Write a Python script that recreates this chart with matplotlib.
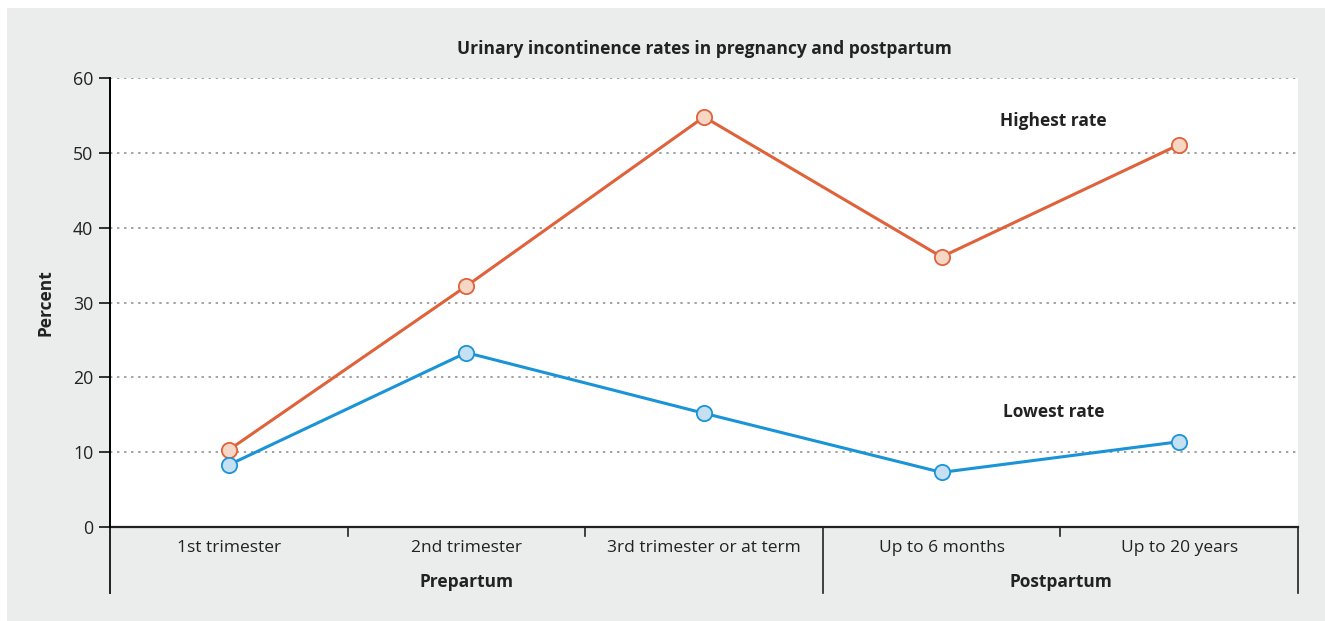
import matplotlib
matplotlib.use("Agg")
import matplotlib.pyplot as plt
from matplotlib.patches import Rectangle

plt.rcParams['font.family'] = ['Open Sans', 'DejaVu Sans']

# data
categories = ["1st trimester", "2nd trimester", "3rd trimester or at term",
              "Up to 6 months", "Up to 20 years"]
groups = ["Prepartum", "Postpartum"]
group_spans = [(0, 3), (3, 5)]   # category index range per group
highest = [10.3, 32.2, 54.8, 36.1, 51.1]
lowest = [8.3, 23.3, 15.2, 7.3, 11.4]
yticks = [0, 10, 20, 30, 40, 50, 60]

orange = "#E0623A"
orange_fill = "#F6D6C4"
blue = "#1A94D6"
blue_fill = "#C6E0F3"
bg = "#EBECEC"

fig = plt.figure(figsize=(13.25, 6.21), dpi=100)
fig.patch.set_facecolor("white")
fig.patches.append(Rectangle((7 / 1325, 0), 1 - 7 / 1325, 1 - 8 / 621,
                             transform=fig.transFigure, facecolor=bg,
                             edgecolor="none", zorder=-10))

ax = fig.add_axes([110 / 1325, 1 - 527 / 621, 1188 / 1325, 449 / 621])
ax.set_facecolor("white")

x = list(range(len(categories)))
ax.plot(x, highest, color=orange, lw=2.2, marker="o", ms=11,
        mfc=orange_fill, mec=orange, mew=1.3, zorder=3, clip_on=False)
ax.plot(x, lowest, color=blue, lw=2.2, marker="o", ms=11,
        mfc=blue_fill, mec=blue, mew=1.3, zorder=3, clip_on=False)

ax.set_xlim(-0.5, len(categories) - 0.5)
ax.set_ylim(0, 60)
ax.set_yticks(yticks)
ax.set_yticklabels([str(v) for v in yticks], fontsize=12.8, color="#222222")
ax.tick_params(axis="y", length=8, width=1.3, pad=4, color="#222222")

# dotted grid
for v in yticks[1:]:
    ax.axhline(v, color="#9a9a9a", lw=1.3, ls=(0, (1.3, 2.6)), zorder=1)

for s in ["top", "right", "bottom"]:
    ax.spines[s].set_visible(False)
ax.spines["left"].set_linewidth(1.4)
ax.spines["left"].set_bounds(0, 60)
ax.axhline(0, color="#222222", lw=1.6, zorder=2, clip_on=False)

ax.set_xticks([])

# category labels and separators below axis
for i, c in enumerate(categories):
    ax.text(i, -0.047, c, transform=ax.get_xaxis_transform(), ha="center",
            va="center", fontsize=12.5, color="#222222")
for b in range(1, len(categories) + 1):
    xb = b - 0.5
    ends = [e for _, e in group_spans]
    y1 = -0.147 if b in ends else -0.02
    ax.plot([xb, xb], [0, y1], transform=ax.get_xaxis_transform(),
            color="#222222", lw=1.2, clip_on=False)
ax.plot([-0.5, -0.5], [0, -0.147], transform=ax.get_xaxis_transform(),
        color="#222222", lw=1.4, clip_on=False)

for g, (s, e) in zip(groups, group_spans):
    ax.text((s + e - 1) / 2, -0.1225, g, transform=ax.get_xaxis_transform(),
            ha="center", va="center", fontsize=12.5, fontweight="bold",
            color="#222222")

ax.text(0.5, 1.0646, "Urinary incontinence rates in pregnancy and postpartum",
        transform=ax.transAxes, ha="center", va="center", fontsize=12.5,
        fontweight="bold", color="#222222")
ax.text(-0.0547, 0.5, "Percent", transform=ax.transAxes, ha="center",
        va="center", rotation=90, fontsize=12.5, fontweight="bold",
        color="#222222")

ax.text(3.47, 54.3, "Highest rate", ha="center", va="center", fontsize=12.5,
        fontweight="bold", color="#222222")
ax.text(3.47, 15.4, "Lowest rate", ha="center", va="center", fontsize=12.5,
        fontweight="bold", color="#222222")

fig.savefig("out.png", dpi=100, facecolor=fig.get_facecolor())
